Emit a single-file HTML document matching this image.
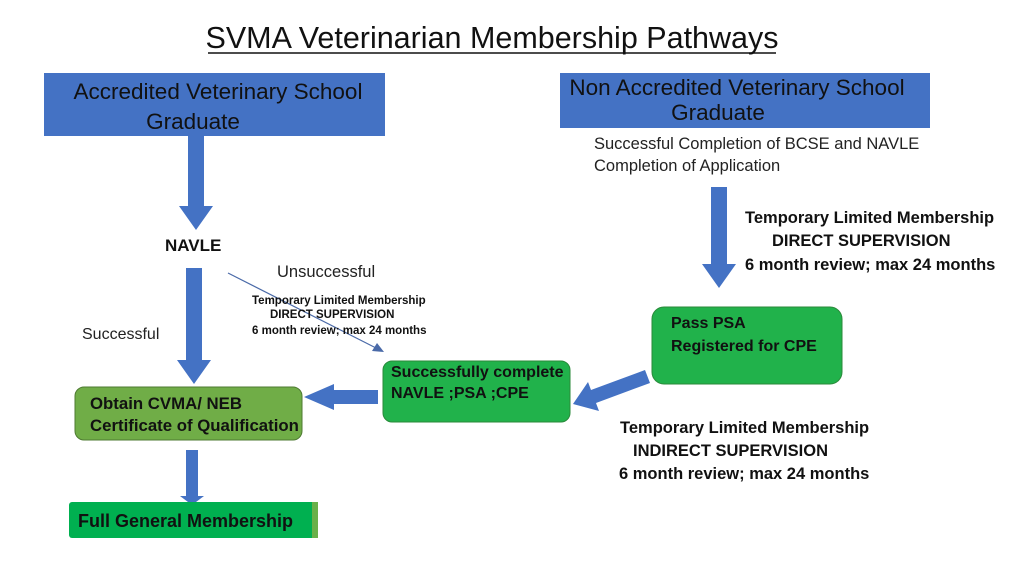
<!DOCTYPE html>
<html><head><meta charset="utf-8"><style>
body{margin:0;background:#fff}
svg{display:block}
text{font-family:"Liberation Sans",sans-serif}
.b{font-weight:bold}
</style></head><body>
<svg width="1024" height="576" viewBox="0 0 1024 576">
<text x="492" y="48" font-size="30.5" text-anchor="middle" fill="#111">SVMA Veterinarian Membership Pathways</text>
<line x1="208" y1="53" x2="776" y2="53" stroke="#111" stroke-width="1.5"/>

<rect x="44" y="73" width="341" height="63" fill="#4472c4"/>
<text x="218" y="99" font-size="22.5" text-anchor="middle" fill="#111">Accredited Veterinary School</text>
<text x="193" y="129" font-size="22.5" text-anchor="middle" fill="#111">Graduate</text>

<rect x="560" y="73" width="370" height="55" fill="#4472c4"/>
<text x="737" y="95" font-size="22.5" text-anchor="middle" fill="#111">Non Accredited Veterinary School</text>
<text x="718" y="120" font-size="22.5" text-anchor="middle" fill="#111">Graduate</text>

<polygon points="188,136 204,136 204,206 213,206 196,230 179,206 188,206" fill="#4472c4"/>
<text x="165" y="251" font-size="17" class="b" fill="#111">NAVLE</text>
<polygon points="186,268 202,268 202,360 211,360 194,384 177,360 186,360" fill="#4472c4"/>
<text x="82" y="339" font-size="16" fill="#222">Successful</text>
<text x="277" y="277" font-size="16.5" fill="#222">Unsuccessful</text>
<line x1="228" y1="273" x2="378" y2="349" stroke="#4a6aa8" stroke-width="1.2"/>
<polygon points="384,352 372,351 377,343" fill="#4a6aa8"/>
<text x="252" y="304" font-size="11.5" class="b" fill="#111">Temporary Limited Membership</text>
<text x="270" y="318" font-size="11.5" class="b" fill="#111">DIRECT SUPERVISION</text>
<text x="252" y="334" font-size="11.5" class="b" fill="#111">6 month review; max 24 months</text>

<rect x="383" y="361" width="187" height="61" rx="9" fill="#21b24b" stroke="#2a8a3a"/>
<text x="391" y="377" font-size="16" class="b" fill="#111">Successfully complete</text>
<text x="391" y="398" font-size="16" class="b" fill="#111">NAVLE ;PSA ;CPE</text>

<polygon points="378,390 334,390 334,384 304,397 334,410 334,404 378,404" fill="#4472c4"/>

<rect x="75" y="387" width="227" height="53" rx="9" fill="#70ad47" stroke="#4e7a32"/>
<text x="90" y="409" font-size="16.8" class="b" fill="#111">Obtain CVMA/ NEB</text>
<text x="90" y="431" font-size="16.8" class="b" fill="#111">Certificate of Qualification</text>

<polygon points="186,450 198,450 198,496 204,496 192,505 180,496 186,496" fill="#4472c4"/>
<rect x="69" y="502" width="249" height="36" rx="3" fill="#00b050"/>
<rect x="312" y="502" width="6" height="36" fill="#6ab04a"/>
<text x="78" y="527" font-size="18" class="b" fill="#111">Full General Membership</text>

<text x="594" y="149" font-size="16.5" fill="#222">Successful Completion of BCSE and NAVLE</text>
<text x="594" y="171" font-size="16.5" fill="#222">Completion of Application</text>
<polygon points="711,187 727,187 727,264 736,264 719,288 702,264 711,264" fill="#4472c4"/>
<text x="745" y="223" font-size="16.5" class="b" fill="#111">Temporary Limited Membership</text>
<text x="772" y="246" font-size="16.5" class="b" fill="#111">DIRECT SUPERVISION</text>
<text x="745" y="270" font-size="16.5" class="b" fill="#111">6 month review; max 24 months</text>

<rect x="652" y="307" width="190" height="77" rx="12" fill="#21b24b" stroke="#2a8a3a"/>
<text x="671" y="328" font-size="16" class="b" fill="#111">Pass PSA</text>
<text x="671" y="351" font-size="16" class="b" fill="#111">Registered for CPE</text>

<polygon points="645,370 650,383 596,403 599,411 573,404 588,382 591,390" fill="#4472c4"/>

<text x="620" y="433" font-size="16.5" class="b" fill="#111">Temporary Limited Membership</text>
<text x="633" y="456" font-size="16.5" class="b" fill="#111">INDIRECT SUPERVISION</text>
<text x="619" y="479" font-size="16.5" class="b" fill="#111">6 month review; max 24 months</text>
</svg>
</body></html>
